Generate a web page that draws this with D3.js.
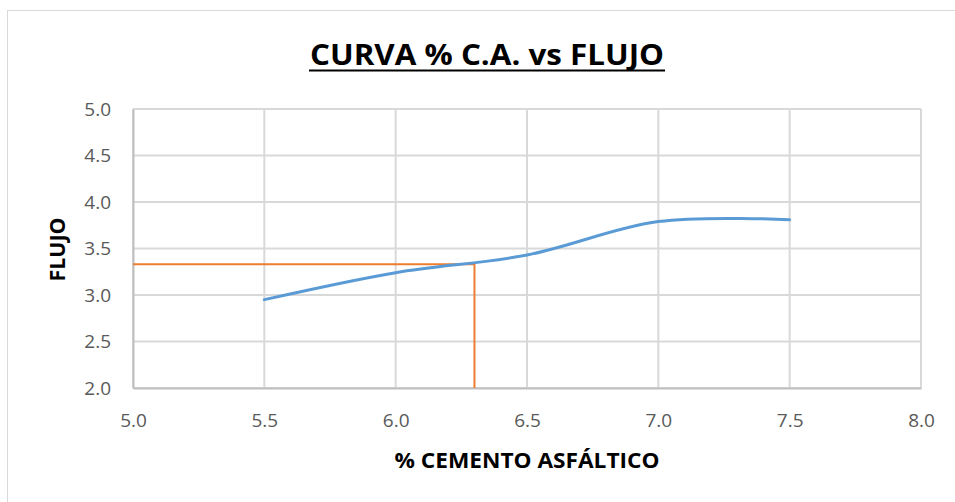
<!DOCTYPE html>
<html>
<head>
<meta charset="utf-8">
<script src="https://cdn.jsdelivr.net/npm/d3@7"></script>
<style>
  html, body { margin: 0; padding: 0; background: #fff; }
  svg { display: block; }
  svg text { font-family: "Open Sans", "Liberation Sans", sans-serif; }
</style>
</head>
<body>
<svg id="chart" width="955" height="502"></svg>
<script>
// Asphalt content vs. flow (Marshall design curve)
const asphaltPct = [5.5, 6.0, 6.5, 7.0, 7.5];
const flowValues = [2.95, 3.24, 3.43, 3.79, 3.81];

// Design point
const designPct = 6.3;
const designFlow = 3.33;

const xTicks = [5.0, 5.5, 6.0, 6.5, 7.0, 7.5, 8.0];
const yTicks = [2.0, 2.5, 3.0, 3.5, 4.0, 4.5, 5.0];

const titleText = "CURVA % C.A. vs FLUJO";
const xTitle = "% CEMENTO ASFÁLTICO";
const yTitle = "FLUJO";

const svg = d3.select("#chart");
const W = 955, H = 502;
const plot = { left: 133, right: 921, top: 109, bottom: 388 };

// Chart frame
svg.append("rect")
  .attr("x", 7.5).attr("y", 10.5)
  .attr("width", W + 10).attr("height", H + 10)
  .attr("fill", "#fff").attr("stroke", "#d9d9d9").attr("stroke-width", 1);

const x = d3.scaleLinear().domain([5.0, 8.0]).range([plot.left, plot.right]);
const y = d3.scaleLinear().domain([2.0, 5.0]).range([plot.bottom, plot.top]);

// Gridlines
const grid = svg.append("g");
grid.selectAll("line.v").data(xTicks).join("line")
  .attr("x1", d => x(d)).attr("x2", d => x(d))
  .attr("y1", plot.top).attr("y2", plot.bottom)
  .attr("stroke", "#d9d9d9").attr("stroke-width", 2);
grid.selectAll("line.h").data(yTicks).join("line")
  .attr("x1", plot.left).attr("x2", plot.right)
  .attr("y1", d => y(d)).attr("y2", d => y(d))
  .attr("stroke", "#d9d9d9").attr("stroke-width", 2);

// Axes
const xAxis = d3.axisBottom(x).tickValues(xTicks).tickFormat(d3.format(".1f")).tickSize(0).tickPadding(30);
const yAxis = d3.axisLeft(y).tickValues(yTicks).tickFormat(d3.format(".1f")).tickSize(0).tickPadding(22);

const gx = svg.append("g").attr("transform", `translate(0,${plot.bottom})`).call(xAxis);
gx.attr("font-family", null);
gx.select(".domain").attr("stroke", "#bfbfbf").attr("stroke-width", 2);
gx.selectAll("text").attr("fill", "#595959").style("font-size", "19px").attr("dy", "0.45em");

const gy = svg.append("g").attr("transform", `translate(${plot.left},0)`).call(yAxis);
gy.attr("font-family", null);
gy.select(".domain").attr("stroke", "#bfbfbf").attr("stroke-width", 2);
gy.selectAll("text").attr("fill", "#595959").style("font-size", "19px");

// Design point guide lines
const guide = d3.line().x(d => x(d[0])).y(d => y(d[1]));
svg.append("path")
  .attr("d", guide([[5.0, designFlow], [designPct, designFlow], [designPct, 2.0]]))
  .attr("fill", "none").attr("stroke", "#ed7d31").attr("stroke-width", 2);

// Smoothed flow curve
const curve = d3.line()
  .x((d, i) => x(asphaltPct[i]))
  .y(d => y(d))
  .curve(d3.curveCatmullRom.alpha(0.5));
svg.append("path")
  .attr("d", curve(flowValues))
  .attr("fill", "none").attr("stroke", "#5b9bd5").attr("stroke-width", 3)
  .attr("stroke-linecap", "round");

// Titles
svg.append("text")
  .attr("x", 487).attr("y", 65)
  .attr("text-anchor", "middle")
  .attr("font-weight", "bold").attr("font-size", 29)
  .attr("fill", "#000")
  .attr("textLength", 354).attr("lengthAdjust", "spacingAndGlyphs")
  .text(titleText);
svg.append("line")
  .attr("x1", 309).attr("x2", 665)
  .attr("y1", 70.5).attr("y2", 70.5)
  .attr("stroke", "#000").attr("stroke-width", 2);

svg.append("text")
  .attr("x", (plot.left + plot.right) / 2).attr("y", 468)
  .attr("text-anchor", "middle")
  .attr("font-weight", "bold").attr("font-size", 22)
  .attr("fill", "#000")
  .attr("textLength", 265).attr("lengthAdjust", "spacingAndGlyphs")
  .text(xTitle);

svg.append("text")
  .attr("transform", `translate(65,${(plot.top + plot.bottom) / 2 + 1}) rotate(-90)`)
  .attr("text-anchor", "middle")
  .attr("font-weight", "bold").attr("font-size", 22)
  .attr("fill", "#000")
  .attr("textLength", 64).attr("lengthAdjust", "spacingAndGlyphs")
  .text(yTitle);
</script>
</body>
</html>
